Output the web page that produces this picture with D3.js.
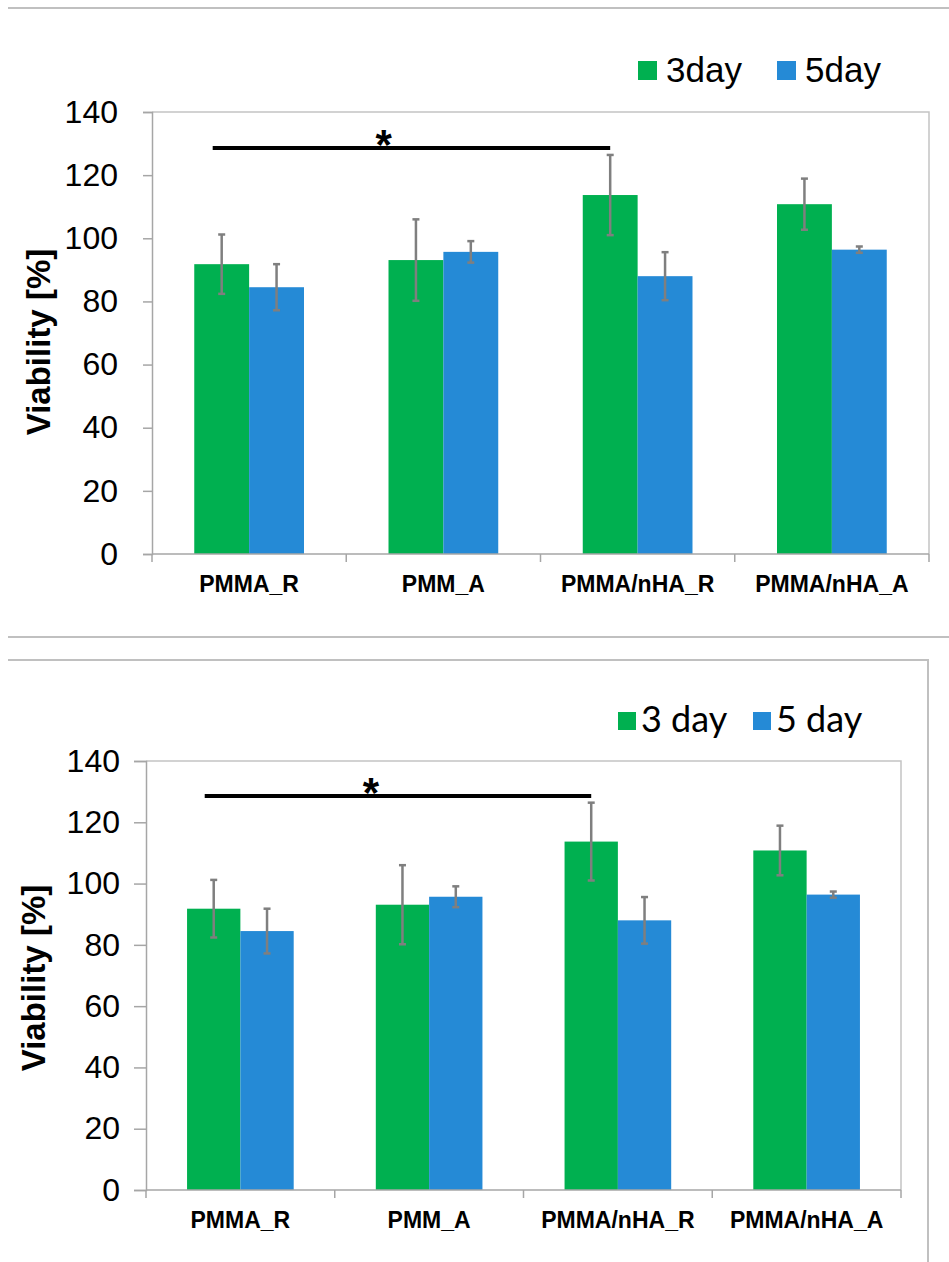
<!DOCTYPE html>
<html>
<head>
<meta charset="utf-8">
<script src="https://cdn.jsdelivr.net/npm/d3@7"></script>
<style>
  html, body { margin: 0; padding: 0; background: #fff; }
  svg { display: block; }
</style>
</head>
<body>
<div id="chart"></div>
<script>
const categories = ["PMMA_R", "PMM_A", "PMMA/nHA_R", "PMMA/nHA_A"];
const series = ["3day", "5day"];
const day3 = [91.8, 93.1, 113.7, 110.8];
const day3Err = [9.4, 12.9, 12.7, 8.1];
const day5 = [84.5, 95.7, 88.0, 96.4];
const day5Err = [7.3, 3.4, 7.6, 1.0];
const yTicks = [0, 20, 40, 60, 80, 100, 120, 140];
const topLegend = ["3day", "5day"];
const bottomLegend = ["3 day", "5 day"];
// significance bracket: between PMMA_R and PMMA/nHA_R (3 day)
const sigPair = ["PMMA_R", "PMMA/nHA_R"];

const width = 949;
const height = 1262;
const colors = { "3day": "#00b050", "5day": "#258ad6" };
const values = { "3day": day3, "5day": day5 };
const errors = { "3day": day3Err, "5day": day5Err };

const svg = d3.select("#chart")
  .append("svg")
  .attr("width", width)
  .attr("height", height);

// frame lines around the two panels
const frame = svg.append("g").attr("stroke", "#c0c0c0").attr("stroke-width", 2).attr("fill", "none");
frame.append("line").attr("x1", 8).attr("x2", width).attr("y1", 8).attr("y2", 8);
frame.append("line").attr("x1", 8).attr("x2", width).attr("y1", 637).attr("y2", 637);
frame.append("path").attr("d", "M8,660H928V1262");

function drawPanel(cfg) {
  const g = svg.append("g");

  const x = d3.scaleBand().domain(categories).range([cfg.left, cfg.right]);
  const xs = d3.scaleBand().domain(series).range([0, x.bandwidth()]).paddingOuter(0.77);
  const y = d3.scaleLinear().domain([0, 140]).range([cfg.bottom, cfg.top]);

  // plot area border (top + right)
  g.append("path")
    .attr("d", `M${cfg.left},${cfg.top}H${cfg.right}V${cfg.bottom}`)
    .attr("fill", "none")
    .attr("stroke", "#c4c4c4")
    .attr("stroke-width", 1.5);

  // bars
  series.forEach((s) => {
    g.append("g")
      .selectAll("rect")
      .data(categories)
      .join("rect")
      .attr("x", (d) => x(d) + xs(s))
      .attr("y", (d, i) => y(values[s][i]))
      .attr("width", xs.bandwidth())
      .attr("height", (d, i) => y(0) - y(values[s][i]))
      .attr("fill", colors[s]);
  });

  // error bars
  series.forEach((s) => {
    const eb = g.append("g").attr("stroke", "#7f7f7f").attr("stroke-width", 2.5);
    categories.forEach((c, i) => {
      const cx = x(c) + xs(s) + xs.bandwidth() / 2;
      const hi = y(values[s][i] + errors[s][i]);
      const lo = y(values[s][i] - errors[s][i]);
      eb.append("line").attr("x1", cx).attr("x2", cx).attr("y1", hi).attr("y2", lo);
      eb.append("line").attr("x1", cx - 3.5).attr("x2", cx + 3.5).attr("y1", hi).attr("y2", hi);
      eb.append("line").attr("x1", cx - 3.5).attr("x2", cx + 3.5).attr("y1", lo).attr("y2", lo);
    });
  });

  // y axis
  const yAxis = g.append("g")
    .attr("transform", `translate(${cfg.left},0)`)
    .call(d3.axisLeft(y).tickValues(yTicks).tickSize(cfg.tick).tickPadding(cfg.labelGap));
  yAxis.select(".domain").attr("stroke", "#a6a6a6").attr("stroke-width", 1.5);
  yAxis.selectAll(".tick line").attr("stroke", "#a6a6a6").attr("stroke-width", 1.5);
  yAxis.selectAll(".tick text")
    .attr("fill", "#000")
    .style("font", "32px 'Liberation Sans', Arial, sans-serif");

  // x axis with ticks on band boundaries
  const xAxis = g.append("g").attr("transform", `translate(0,${cfg.bottom})`);
  xAxis.append("line")
    .attr("x1", cfg.left).attr("x2", cfg.right)
    .attr("stroke", "#a6a6a6").attr("stroke-width", 1.5);
  const bounds = categories.map((c) => x(c)).concat([cfg.right]);
  xAxis.selectAll("line.b")
    .data(bounds)
    .join("line")
    .attr("class", "b")
    .attr("x1", (d) => d).attr("x2", (d) => d)
    .attr("y1", 0).attr("y2", 8)
    .attr("stroke", "#a6a6a6").attr("stroke-width", 1.5);
  xAxis.selectAll("text")
    .data(categories)
    .join("text")
    .attr("x", (d) => x(d) + x.bandwidth() / 2)
    .attr("y", 38)
    .attr("text-anchor", "middle")
    .style("font", "bold 23px 'Liberation Sans', Arial, sans-serif")
    .text((d) => d);

  // y axis title
  g.append("text")
    .attr("transform", `translate(${cfg.titleX},${cfg.titleY}) rotate(-90)`)
    .attr("text-anchor", "middle")
    .attr("dy", "0.35em")
    .style("font", "bold 33px 'Liberation Sans', Arial, sans-serif")
    .text("Viability [%]");

  // significance bar
  const x0 = x(sigPair[0]) + xs("3day") + xs.bandwidth() / 2 - 9;
  const x1 = x(sigPair[1]) + xs("3day") + xs.bandwidth() / 2;
  g.append("line")
    .attr("x1", x0).attr("x2", x1)
    .attr("y1", cfg.sigY).attr("y2", cfg.sigY)
    .attr("stroke", "#000").attr("stroke-width", 4);
  g.append("text")
    .attr("x", x0 + (x1 - x0) * 0.43)
    .attr("y", cfg.sigY + 11)
    .attr("text-anchor", "middle")
    .style("font", "bold 42px 'Liberation Sans', Arial, sans-serif")
    .text("*");

  // legend
  const lg = g.append("g");
  series.forEach((s, i) => {
    lg.append("rect")
      .attr("x", cfg.legendX[i]).attr("y", cfg.legendY)
      .attr("width", cfg.legendBox).attr("height", cfg.legendBox)
      .attr("fill", colors[s]);
    lg.append("text")
      .attr("x", cfg.legendX[i] + cfg.legendBox + cfg.legendGap)
      .attr("y", cfg.legendBase)
      .style("font", cfg.legendFont)
      .text(cfg.legend[i]);
  });
}

drawPanel({
  left: 152, right: 929, top: 112, bottom: 554,
  tick: 9, labelGap: 25,
  titleX: 38, titleY: 342,
  sigY: 148,
  legend: topLegend,
  legendX: [638, 777], legendY: 61, legendBox: 19, legendGap: 9, legendBase: 82,
  legendFont: "35px 'Liberation Sans', Arial, sans-serif"
});

drawPanel({
  left: 146, right: 901, top: 761, bottom: 1190,
  tick: 12, labelGap: 14,
  titleX: 33, titleY: 978,
  sigY: 796,
  legend: bottomLegend,
  legendX: [618, 753], legendY: 712, legendBox: 18, legendGap: 5, legendBase: 732,
  legendFont: "36px Lato, 'Open Sans', sans-serif"
});
</script>
</body>
</html>
